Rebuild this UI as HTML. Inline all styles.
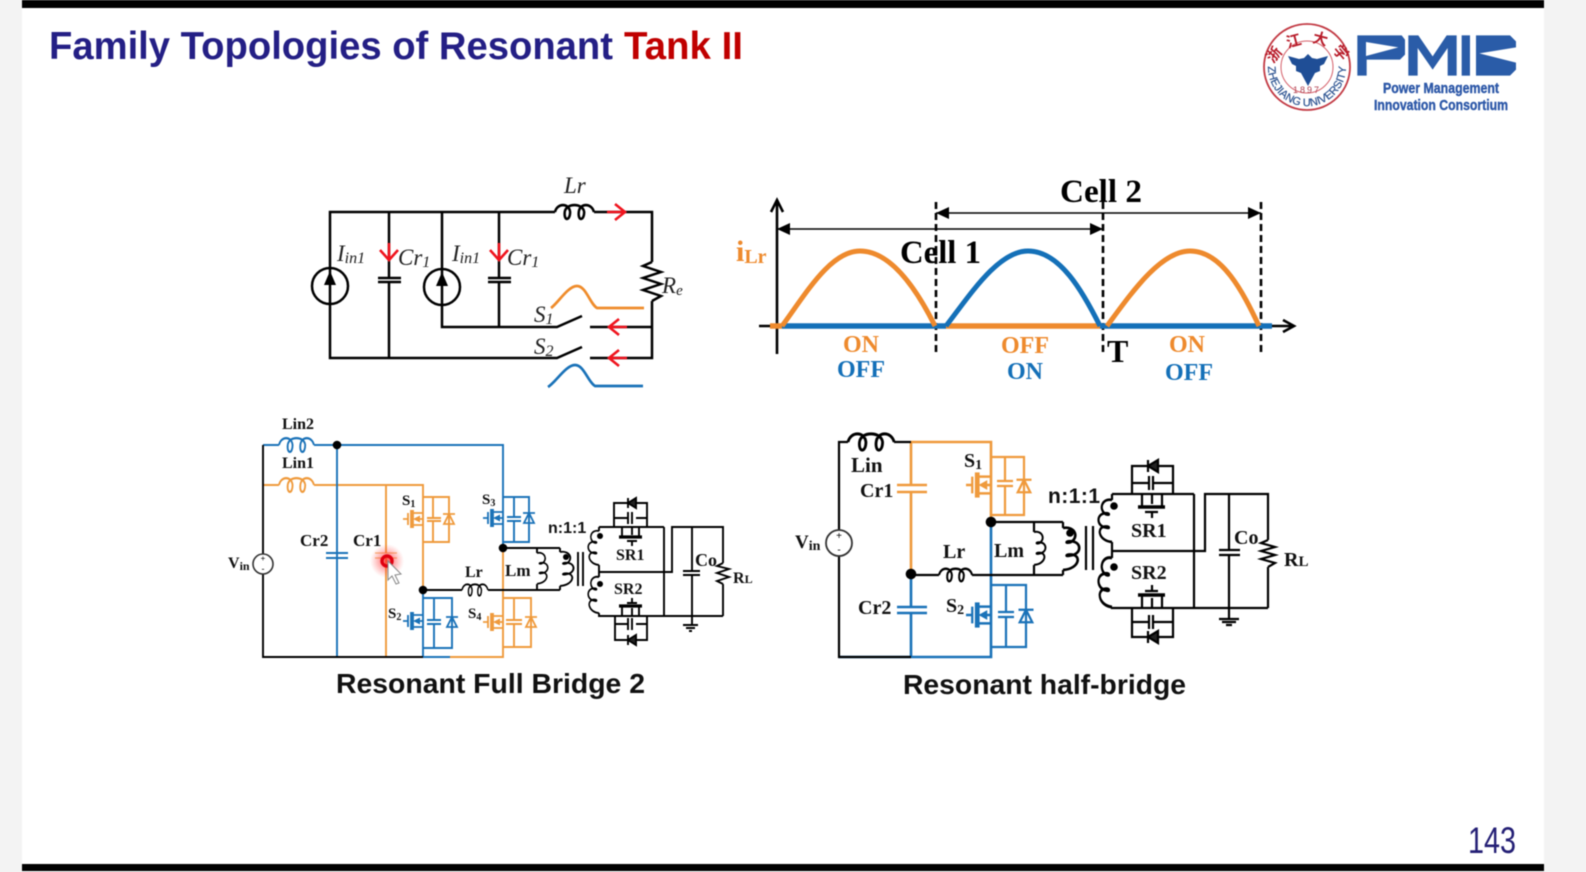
<!DOCTYPE html>
<html><head><meta charset="utf-8"><title>Family Topologies of Resonant Tank II</title>
<style>
html,body{margin:0;padding:0;background:#f3f3f3;width:1586px;height:872px;overflow:hidden}
svg{display:block;filter:blur(.5px)}
.s{font-family:"Liberation Serif","Noto Serif CJK SC",serif}
.a{font-family:"Liberation Sans",sans-serif}
.c{font-family:"Liberation Sans","Noto Sans CJK SC",sans-serif}
.b{font-weight:bold}
.i{font-style:italic}
</style></head><body>
<svg width="1586" height="872" viewBox="0 0 1586 872" xmlns="http://www.w3.org/2000/svg">
<defs>
<radialGradient id="glow"><stop offset="0" stop-color="#ff2020" stop-opacity=".75"/><stop offset=".55" stop-color="#ff4040" stop-opacity=".35"/><stop offset="1" stop-color="#ff6060" stop-opacity="0"/></radialGradient>
<g id="fet" fill="none" stroke="currentColor" stroke-width="1.8">
<path d="M-20,0H-15M-15,-6V6M-11,-6H0M-11,6H0"/><path d="M-11,-9V9" stroke-width="3.8"/>
<path d="M-10,0L-3,-3.5V3.5Z" fill="currentColor" stroke="none"/><path d="M-5,0H0"/>
</g>
<g id="di" fill="none" stroke="currentColor" stroke-width="1.8"><path d="M-5,5H5L0,-5ZM-6,-5H6"/></g>
<g id="ind" fill="none" stroke="currentColor"><path d="M0,0C2,-8 13,-8 14,0C14,8 8,8 9,0C10,-8 26,-8 27,0C27,8 21,8 22,0C23,-8 34,-8 36,0"/></g>
<g id="coilR" fill="none" stroke="currentColor"><path d="M0,0C10,-2 14,8 6,12C2,13 2,11 6,11C16,11 16,22 6,23C2,24 2,22 6,22C16,22 14,34 0,35"/></g>
<g id="coilL" fill="none" stroke="currentColor"><path d="M0,0C-10,-2 -14,8 -6,12C-2,13 -2,11 -6,11C-16,11 -16,22 -6,23C-2,24 -2,22 -6,22C-16,22 -14,34 0,35"/></g>
<path id="sealArc" d="M1270.4,53.7A39,39 0 1 0 1343.6,53.7"/>
</defs>

<!-- slide -->
<rect x="0" y="0" width="1586" height="872" fill="#f3f3f3"/>
<rect x="22" y="0" width="1522" height="871" fill="#fff"/>
<rect x="22" y="0" width="1522" height="8" fill="#000"/>
<rect x="22" y="864" width="1522" height="7" fill="#000"/>

<!-- title -->
<text x="49" y="59" class="a b" font-size="39" fill="#241f85" textLength="564" lengthAdjust="spacingAndGlyphs">Family Topologies of Resonant</text>
<text x="624" y="59" class="a b" font-size="39" fill="#c00000" textLength="119" lengthAdjust="spacingAndGlyphs">Tank II</text>

<!-- seal -->
<circle cx="1307" cy="67" r="43" fill="#fff" stroke="#c23a44" stroke-width="1.8"/>
<circle cx="1307" cy="67" r="26" fill="none" stroke="#d5606a" stroke-width="1"/>
<text font-size="11" class="a" fill="#28508f" stroke="#28508f" stroke-width=".2"><textPath href="#sealArc" startOffset="50%" text-anchor="middle">ZHEJIANG UNIVERSITY</textPath></text>
<text x="1307" y="93" text-anchor="middle" font-size="9" class="a" letter-spacing="2" fill="#b04050">1897</text>
<g class="c b" font-size="15" fill="#b81c2a" text-anchor="middle">
<text transform="translate(1278,58) rotate(-50)">浙</text>
<text transform="translate(1295,46) rotate(-15)">江</text>
<text transform="translate(1319,44) rotate(15)">大</text>
<text transform="translate(1337,56) rotate(50)">学</text>
</g>
<path d="M1288,56L1299,59L1304,58L1308,54L1312,58L1317,59L1328,56L1324,64L1320,66L1320,71L1315,73L1308,86L1301,73L1296,71L1296,66L1292,64Z" fill="#1f4e96"/>

<!-- PMIC logo -->
<g transform="translate(1350,28) scale(.3333)" fill="#2a5ca8">
<path d="M22,22H155L165,35V80L150,95H50V143H22Z"/><path d="M48,42L145,58L48,84Z" fill="#fff"/>
<path d="M175,143V22H205L248,85L290,22H320V143H293V60L248,125L203,60V143Z"/>
<rect x="335" y="22" width="25" height="121"/>
<path d="M378,22H480L498,40V58L388,76L498,104V125L480,143H378Z"/>
</g>
<text x="1383" y="93" class="a b" font-size="15" fill="#2d58a8" stroke="#2d58a8" stroke-width=".4" textLength="116" lengthAdjust="spacingAndGlyphs">Power Management</text>
<text x="1374" y="110" class="a b" font-size="15" fill="#2d58a8" stroke="#2d58a8" stroke-width=".4" textLength="134" lengthAdjust="spacingAndGlyphs">Innovation Consortium</text>

<!-- top circuit -->
<g fill="none" stroke="#000" stroke-width="2.5">
<path d="M555,212H330V358H557L582,347M389,212V278M389,282V358M442,212V327H557L582,316M499,212V278M499,282V327"/>
<path d="M594,212H652V262M652,301V358H590M652,327H590"/>
<path d="M652,262L643,266L661,272L643,278L661,284L643,290L661,296L652,301"/>
<path d="M378,278H401M378,282H401M488,278H511M488,282H511"/>
<circle cx="330" cy="286" r="18"/><circle cx="442" cy="287" r="18"/>
<use href="#ind" transform="translate(555,212) scale(1.08,1.15)" stroke-width="2.3" color="#000"/>
</g>
<path d="M330,271l-6,14h12ZM442,272l-6,14h12Z" fill="#000"/>
<g fill="none" stroke="#f0141e" stroke-width="2.6">
<path d="M389,243V260M380,250L389,260L398,250M499,243V260M490,250L499,260L508,250"/>
<path d="M607,212H625M615,204L625,212L615,220"/>
<path d="M627,327H609M619,319L609,327L619,335M627,358H609M619,350L609,358L619,366"/>
</g>
<path d="M551,308C558,303 568,286 577,286C586,286 590,304 597,308H644" fill="none" stroke="#ef8c2c" stroke-width="2.7"/>
<path d="M548,387C556,382 566,365 575,365C584,365 588,382 595,386H643" fill="none" stroke="#1a72b8" stroke-width="2.7"/>
<g class="s i" fill="#222">
<text x="337" y="261" font-size="23">I<tspan font-size="16" dy="2">in1</tspan></text>
<text x="452" y="261" font-size="23">I<tspan font-size="16" dy="2">in1</tspan></text>
<text x="398" y="265" font-size="23">Cr<tspan font-size="16" dy="2">1</tspan></text>
<text x="507" y="265" font-size="23">Cr<tspan font-size="16" dy="2">1</tspan></text>
<text x="564" y="193" font-size="23">Lr</text>
<text x="662" y="293" font-size="23">R<tspan font-size="15" dy="2">e</tspan></text>
<text x="534" y="322" font-size="23">S<tspan font-size="16" dy="2">1</tspan></text>
<text x="534" y="354" font-size="23">S<tspan font-size="16" dy="2">2</tspan></text>
</g>

<!-- waveform -->
<path d="M777,354V202M771,212L777,200L783,212" fill="none" stroke="#000" stroke-width="2.6"/>
<path d="M759,326H1292M1283,320L1294,326L1283,332" fill="none" stroke="#000" stroke-width="2.6"/>
<path d="M936,202V353M1103,202V353M1261,202V353" fill="none" stroke="#000" stroke-width="2.6" stroke-dasharray="7 4"/>
<path d="M777,229H1103M936,213H1261" stroke="#000" stroke-width="1.5" fill="none"/>
<path d="M777,229l13,-6v12ZM1103,229l-13,-6v12ZM936,213l13,-6v12ZM1261,213l-13,-6v12Z" fill="#000"/>
<path d="M770,326H782M946,326H1100" stroke="#ee8a2d" stroke-width="5.5" fill="none"/>
<path d="M782,326H935M935,326H946M1100,326H1272" stroke="#1470b8" stroke-width="5.5" fill="none"/>
<path d="M782,326C805,295 830,251 860,251C892,251 918,292 935,326" fill="none" stroke="#ee8a2d" stroke-width="5"/>
<path d="M946,326C970,295 998,251 1028,251C1060,251 1083,292 1100,326" fill="none" stroke="#1470b8" stroke-width="5"/>
<path d="M1107,326C1130,295 1160,251 1190,251C1222,251 1243,292 1259,326" fill="none" stroke="#ee8a2d" stroke-width="5"/>
<g class="s b">
<text x="1060" y="202" font-size="33" textLength="82" lengthAdjust="spacingAndGlyphs">Cell 2</text>
<text x="900" y="263" font-size="33" textLength="81" lengthAdjust="spacingAndGlyphs">Cell 1</text>
<text x="1107" y="362" font-size="32">T</text>
<text x="736" y="261" font-size="30" fill="#ee8a2d">i<tspan font-size="20" dy="2">Lr</tspan></text>
<g text-anchor="middle" font-size="24">
<text x="861" y="352" fill="#ee8a2d">ON</text><text x="861" y="377" fill="#1470b8">OFF</text>
<text x="1025" y="353" fill="#ee8a2d">OFF</text><text x="1025" y="379" fill="#1470b8">ON</text>
<text x="1187" y="352" fill="#ee8a2d">ON</text><text x="1189" y="380" fill="#1470b8">OFF</text>
</g></g>

<!-- bottom-left circuit -->
<g fill="none" stroke-width="1.9">
<g stroke="#ef9a3c">
<path d="M263,485H279M314,485H423V590M386,485V553M386,558V657M450,657H503V548"/>
<path d="M423,497H449V542H423M433,497V518M433,521V542M427,518H441M427,521H441"/>
<path d="M503,598H531V647H503M514,598V620M514,624V647M506,620H522M506,624H522"/>
<path d="M375,553H397M375,558H397" stroke-width="1.3" opacity=".7"/>
<use href="#ind" transform="translate(279,485) scale(.97,1.15)" color="#ef9a3c"/>
</g>
<g stroke="#1a72b8">
<path d="M263,445H279M314,445H503V548M337,445V657M423,590V657M423,657H450"/>
<path d="M326,553H348M326,558H348"/>
<path d="M423,598H452V648H423M434,598V620M434,624V648M427,620H441M427,624H441"/>
<path d="M503,497H529V542H503M514,497V517M514,521V542M507,517H521M507,521H521"/>
<use href="#ind" transform="translate(279,445) scale(.97,1.15)" color="#1a72b8"/>
</g>
<g stroke="#000">
<path d="M263,445V554M263,574V657H423"/>
<path d="M423,590H462M488,590H560M503,548H560M537,548V553M537,584V590M560,548V552M560,586V590"/>
<use href="#ind" transform="translate(462,590) scale(.72,.95)" color="#000"/>
<use href="#coilR" transform="translate(537,553) scale(.8,.88)" color="#000"/>
<use href="#coilR" transform="translate(560,552) scale(1,.97)" color="#000"/>
<path d="M578,552V586M583,552V586"/>
<path d="M599,527H664M599,527V531M599,565V577M599,613V616H723M599,572H672V527H723V563M723,584V616M664,527V616M692,527V571M692,575V625"/>
<path d="M723,563L717,566L729,569L717,573L729,577L717,581L723,584"/>
<path d="M683,571H700M683,575H700M683,625H698M686,628H695M689,631H692"/>
<use href="#coilL" transform="translate(599,531) scale(.8,.97)" color="#000"/>
<use href="#coilL" transform="translate(599,577) scale(.8,1.03)" color="#000"/>
<!-- SR1 / SR2 small -->
<path d="M622,527V537M639,527V537M627,541H637M632,541V546M632,527V535M614,527V503H647V527M614,518H628M636,518H647M628,512V524M632,512V524"/>
<path d="M619,537H642" stroke-width="3.2"/>
<path d="M622,616V606M639,616V606M627,603H637M632,603V598M632,616V608M615,616V640H647V616M615,624H628M636,624H647M628,618V630M632,618V630"/>
<path d="M619,606H642" stroke-width="3.2"/>
<path d="M636,498V508L628,503ZM628,498V508M636,635V645L628,640ZM628,635V645" fill="#222"/>
</g>
</g>
<circle cx="263" cy="564" r="10" fill="#fff" stroke="#333" stroke-width="1.6"/>
<text x="263" y="561" text-anchor="middle" font-size="8" class="a">+</text>
<text x="263" y="572" text-anchor="middle" font-size="9" class="a">-</text>
<g color="#ef9a3c"><use href="#fet" transform="translate(423,519)"/><use href="#fet" transform="translate(503,622)"/><use href="#di" transform="translate(449,519)"/><use href="#di" transform="translate(531,622)"/></g>
<g color="#1a72b8"><use href="#fet" transform="translate(423,621)"/><use href="#fet" transform="translate(503,518)"/><use href="#di" transform="translate(452,622)"/><use href="#di" transform="translate(529,518)"/></g>
<g fill="#000"><circle cx="337" cy="445" r="4.3"/><circle cx="423" cy="590" r="4.3"/><circle cx="503" cy="548" r="4.3"/><circle cx="566" cy="557" r="3"/><circle cx="600" cy="536" r="3"/><circle cx="600" cy="584" r="3"/></g>
<!-- cursor -->
<circle cx="387" cy="561" r="17" fill="url(#glow)"/>
<circle cx="387" cy="561" r="5" fill="none" stroke="#e00010" stroke-width="3.4"/>
<path d="M388,561V580L392,576L396,584L399,583L395,575L401,574Z" fill="#fff" stroke="#888" stroke-width="1"/>
<g class="s b" fill="#111">
<text x="282" y="429" font-size="16">Lin2</text>
<text x="282" y="468" font-size="16">Lin1</text>
<text x="300" y="546" font-size="17">Cr2</text>
<text x="353" y="546" font-size="17">Cr1</text>
<text x="228" y="568" font-size="16">V<tspan font-size="12" dy="2">in</tspan></text>
<text x="402" y="505" font-size="15">S<tspan font-size="10" dy="2">1</tspan></text>
<text x="482" y="504" font-size="15">S<tspan font-size="10" dy="2">3</tspan></text>
<text x="388" y="618" font-size="15">S<tspan font-size="10" dy="2">2</tspan></text>
<text x="468" y="618" font-size="15">S<tspan font-size="10" dy="2">4</tspan></text>
<text x="465" y="577" font-size="16">Lr</text>
<text x="505" y="576" font-size="17">Lm</text>
<text x="616" y="560" font-size="16">SR1</text>
<text x="614" y="594" font-size="16">SR2</text>
<text x="695" y="566" font-size="18">Co</text>
<text x="733" y="583" font-size="16">R<tspan font-size="12">L</tspan></text>
</g>
<text x="548" y="533" class="a b" font-size="16" fill="#111">n:1:1</text>
<text x="336" y="693" class="a b" font-size="28" fill="#111" textLength="309" lengthAdjust="spacingAndGlyphs">Resonant Full Bridge 2</text>

<!-- bottom-right circuit -->
<g fill="none" stroke-width="2.2">
<g stroke="#ef9a3c">
<path d="M911,442H991V522M911,442V485M911,492V574" stroke-width="2.6"/>
<path d="M897,485H927M897,492H927" stroke-width="2.4"/>
<path d="M991,457H1024V515H991M1005,457V481M1005,486V515M997,481H1013M997,486H1013"/>
</g>
<g stroke="#1a72b8">
<path d="M991,522V657H839M911,574V607M911,613V657" stroke-width="2.6"/>
<path d="M897,607H927M897,613H927" stroke-width="2.4"/>
<path d="M991,585H1026V647H991M1006,585V612M1006,617V647M998,612H1014M998,617H1014"/>
</g>
<g stroke="#000">
<path d="M848,442H839V530M839,556V657H911M894,442H911"/>
<path d="M911,575H939M972,575H1063M991,522H1063M1034,522V532M1034,565V575M1063,522V528M1063,570V575"/>
<use href="#ind" transform="translate(848,442) scale(1.28,1.35)" color="#000"/>
<use href="#ind" transform="translate(939,575) scale(.92,1.05)" color="#000"/>
<use href="#coilR" transform="translate(1034,532) scale(.85,.94)" color="#000"/>
<use href="#coilR" transform="translate(1063,528) scale(1.2,1.2)" color="#000"/>
<path d="M1086,526V570M1093,526V570"/>
<path d="M1112,494H1194M1112,494V500M1112,542V558M1112,607V608H1268M1112,551H1205V494H1268V540M1268,567V608M1194,494V608M1229,494V550M1229,555V619"/>
<path d="M1268,540L1261,543L1275,547L1261,551L1275,555L1261,559L1275,563L1268,567"/>
<path d="M1219,550H1240M1219,555H1240M1219,619H1239M1222,622H1236M1226,625H1232"/>
<use href="#coilL" transform="translate(1112,500) scale(1,1.2)" color="#000"/>
<use href="#coilL" transform="translate(1112,558) scale(1,1.4)" color="#000"/>
<path d="M1142,494V507M1162,494V507M1145,512H1158M1152,512V518M1152,494V504M1132,494V466H1173V494M1132,483H1149M1153,483H1173M1149,476V490M1153,476V490"/>
<path d="M1138,507H1165" stroke-width="3.6"/>
<path d="M1142,608V595M1162,608V595M1145,591H1158M1152,591V585M1152,608V598M1132,608V637H1173V608M1132,622H1149M1153,622H1173M1149,615V629M1153,615V629"/>
<path d="M1138,595H1165" stroke-width="3.6"/>
<path d="M1158,460V472L1148,466ZM1148,460V472M1158,631V643L1148,637ZM1148,631V643" fill="#222"/>
</g>
</g>
<circle cx="839" cy="543" r="13" fill="#fff" stroke="#333" stroke-width="1.8"/>
<text x="839" y="539" text-anchor="middle" font-size="10" class="a">+</text>
<text x="839" y="553" text-anchor="middle" font-size="10" class="a">-</text>
<g color="#ef9a3c"><use href="#fet" transform="translate(991,485) scale(1.25,1.4)"/><use href="#di" transform="translate(1024,486) scale(1.25)"/></g>
<g color="#1a72b8"><use href="#fet" transform="translate(991,615) scale(1.25,1.4)"/><use href="#di" transform="translate(1026,616) scale(1.25)"/></g>
<g fill="#000"><circle cx="911" cy="574" r="5.3"/><circle cx="991" cy="522" r="5.3"/><circle cx="1070" cy="533" r="3.8"/><circle cx="1114" cy="506" r="3.8"/><circle cx="1114" cy="567" r="3.8"/></g>
<g class="s b" fill="#111">
<text x="851" y="472" font-size="21">Lin</text>
<text x="860" y="497" font-size="20">Cr1</text>
<text x="858" y="614" font-size="20">Cr2</text>
<text x="795" y="548" font-size="19">V<tspan font-size="14" dy="2">in</tspan></text>
<text x="964" y="467" font-size="20">S<tspan font-size="14" dy="2">1</tspan></text>
<text x="946" y="612" font-size="20">S<tspan font-size="14" dy="2">2</tspan></text>
<text x="943" y="558" font-size="20">Lr</text>
<text x="994" y="557" font-size="20">Lm</text>
<text x="1131" y="537" font-size="20">SR1</text>
<text x="1131" y="579" font-size="20">SR2</text>
<text x="1234" y="544" font-size="20">Co</text>
<text x="1284" y="566" font-size="20">R<tspan font-size="15">L</tspan></text>
</g>
<text x="1048" y="503" class="a b" font-size="21" fill="#111" textLength="52">n:1:1</text>
<text x="903" y="694" class="a b" font-size="28" fill="#111" textLength="283" lengthAdjust="spacingAndGlyphs">Resonant half-bridge</text>

<text x="1468" y="853" class="a" font-size="37" fill="#241f75" textLength="48" lengthAdjust="spacingAndGlyphs">143</text>
</svg>
</body></html>
